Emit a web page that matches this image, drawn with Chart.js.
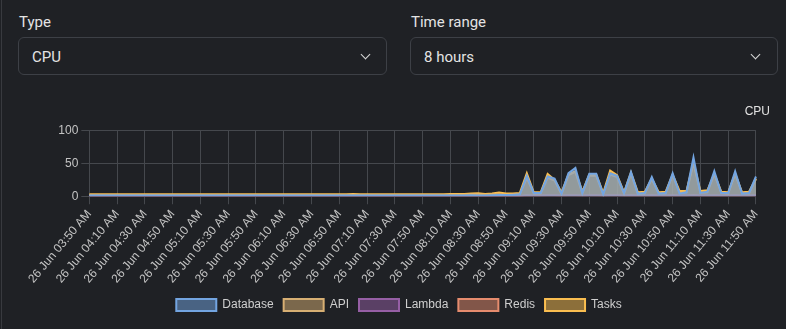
<!DOCTYPE html>
<html>
<head>
<meta charset="utf-8">
<script src="https://cdn.jsdelivr.net/npm/chart.js@4.4.1/dist/chart.umd.min.js"></script>
<style>
  html, body { margin: 0; padding: 0; background: #1f2125; }
  body { width: 786px; height: 329px; position: relative; overflow: hidden; font-family: Roboto, "Noto Sans", sans-serif; color: #e4e4e4; }
  .edge { position: absolute; left: 1px; top: 0; width: 1px; height: 329px; background: #383a3f; }
  .lbl { position: absolute; top: 13px; font-size: 15px; line-height: 18px; }
  .box { position: absolute; top: 37px; height: 36px; border: 1px solid #3d4046; border-radius: 6px; font-size: 15px; line-height: 39px; box-sizing: content-box; }
  .box span { position: absolute; left: 13px; }
  .chev { position: absolute; top: 13px; width: 6px; height: 6px; border-right: 1.5px solid #d8d8d8; border-bottom: 1.5px solid #d8d8d8; transform: rotate(45deg); }
  #wrap { position: absolute; left: 28px; top: 96px; width: 742px; height: 225px; }
</style>
</head>
<body>
<div class="edge"></div>
<div class="lbl" style="left:19px">Type</div>
<div class="box" style="left:18px;width:367px"><span>CPU</span><div class="chev" style="left:343px"></div></div>
<div class="lbl" style="left:411px">Time range</div>
<div class="box" style="left:410px;width:366px"><span>8 hours</span><div class="chev" style="left:341px"></div></div>
<div id="wrap"><canvas id="cpuChart"></canvas></div>
<script>
// 5 minute samples, 26 Jun
const times = [
  "03:50","03:55","04:00","04:05","04:10","04:15","04:20","04:25","04:30","04:35","04:40","04:45",
  "04:50","04:55","05:00","05:05","05:10","05:15","05:20","05:25","05:30","05:35","05:40","05:45",
  "05:50","05:55","06:00","06:05","06:10","06:15","06:20","06:25","06:30","06:35","06:40","06:45",
  "06:50","06:55","07:00","07:05","07:10","07:15","07:20","07:25","07:30","07:35","07:40","07:45",
  "07:50","07:55","08:00","08:05","08:10","08:15","08:20","08:25","08:30","08:35","08:40","08:45",
  "08:50","08:55","09:00","09:05","09:10","09:15","09:20","09:25","09:30","09:35","09:40","09:45",
  "09:50","09:55","10:00","10:05","10:10","10:15","10:20","10:25","10:30","10:35","10:40","10:45",
  "10:50","10:55","11:00","11:05","11:10","11:15","11:20","11:25","11:30","11:35","11:40","11:45",
  "11:50"
];

const database = [
  1,1,1,1,1,1,1,1,1,1,1,1,
  1,1,1,1,1,1,1,1,1,1,1,1,
  1,1,1,1,1,1,1,1,1,1,1,1,
  1,1,1,1,1,1,1,1,1,1,1,1,
  1,1,1,1,1,1,1,1.5,1,1,1.5,2,
  2,2,3,31,5,5,30,27,4,35,43,5,
  34,34,3,35,31,5,37,4,5,29,4,5,
  35,4,6,59,5,7,38,5,5,38,4,5,
  30
];
const api = [
  2,2,2,2,2,2,2,2,2,2,2,2,
  2,2,2,2,2,2,2,2,2,2,2,2,
  2,2,2,2,2,2,2,2,2,2,2,2,
  2,2,2,2,2,2,2,2,2,2,2,2,
  2,2,2,2,2,2,2,2.5,2.5,2,2.5,3,
  2,3,3,28,4,4,28,24,3,32,37,4,
  31,31,3,33,29,4,34,3,4,26,4,4,
  32,5,6,50,5,6,34,5,4,34,4,4,
  26
];
const lambda = [
  0.5,0.5,0.5,0.5,0.5,0.5,0.5,0.5,0.5,0.5,0.5,0.5,
  0.5,0.5,0.5,0.5,0.5,0.5,0.5,0.5,0.5,0.5,0.5,0.5,
  0.5,0.5,0.5,0.5,0.5,0.5,0.5,0.5,0.5,0.5,0.5,0.5,
  0.5,0.5,0.5,0.5,0.5,0.5,0.5,0.5,0.5,0.5,0.5,0.5,
  0.5,0.5,0.5,0.5,0.5,0.5,0.5,0.5,0.5,0.5,0.5,0.5,
  0.5,0.5,0.5,1,1,1,1,1,1,1,1,1,
  1,1,1,1,1,1,1,1,1,1,1,1,
  1,1,1,1,1,1,1,1,1,1,1,1,
  1
];
const redis = [
  0.3,0.3,0.3,0.3,0.3,0.3,0.3,0.3,0.3,0.3,0.3,0.3,
  0.3,0.3,0.3,0.3,0.3,0.3,0.3,0.3,0.3,0.3,0.3,0.3,
  0.3,0.3,0.3,0.3,0.3,0.3,0.3,0.3,0.3,0.3,0.3,0.3,
  0.3,0.3,0.3,0.3,0.3,0.3,0.3,0.3,0.3,0.3,0.3,0.3,
  0.3,0.3,0.3,0.3,0.3,0.3,0.3,0.3,0.3,0.3,0.3,0.3,
  0.3,0.3,0.5,1.5,1,1,1.5,1.5,1,1.5,1.5,1,
  1.5,1.5,1,1.5,1.5,1,1.5,1,1,1.5,1,1,
  1.5,1,1,2,1,1,1.5,1,1,1.5,1,1,
  1.5
];
const tasks = [
  3,3,3,3,3,3,3,3,3,3,3,3,
  3,3,3,3,3,3,3,3,3,3,3,3,
  3,3,3,3,3,3,3,3,3,3,3,3,
  3,3,3.5,3,3,3,3,3,3,3,3,3,
  3,3,3,3,3.5,3.5,3.5,4,4.5,3.5,4,5.5,
  4,4,5,35,6,6,34,25,6,33,38,7,
  33,33,5,39,32,6,36,6,7,27,6,7,
  33,8,8,52,8,9,34,7,6,34,6,7,
  27
];

const seriesNames = ["Database", "API", "Lambda", "Redis", "Tasks"];
const seriesValues = [database, api, lambda, redis, tasks];
const seriesColors = ["115,165,225", "215,175,115", "150,95,165", "230,140,110", "250,190,80"];

const gridColor = "#45484d";
const tickColor = "#c4c4c4";

Chart.defaults.font.family = "'Liberation Sans', Arial, sans-serif";
Chart.defaults.font.size = 12;

new Chart(document.getElementById("cpuChart"), {
  type: "line",
  data: {
    labels: times,
    datasets: seriesNames.map((name, i) => ({
      label: name,
      data: seriesValues[i],
      borderColor: "rgb(" + seriesColors[i] + ")",
      backgroundColor: "rgba(" + seriesColors[i] + ",0.5)",
      borderWidth: 2,
      pointRadius: 0,
      tension: 0,
      fill: "origin"
    }))
  },
  options: {
    responsive: true,
    maintainAspectRatio: false,
    animation: false,
    plugins: {
      title: {
        display: true,
        text: "CPU",
        align: "end",
        color: "#e2e2e2",
        font: { size: 12, weight: "normal" },
        padding: { top: 8, bottom: 12 }
      },
      legend: {
        position: "bottom",
        labels: { color: "#cfcfcf", boxWidth: 40, boxHeight: 12 }
      },
      tooltip: { enabled: false }
    },
    scales: {
      x: {
        grid: { color: gridColor },
        border: { color: gridColor },
        ticks: {
          color: tickColor,
          minRotation: 50,
          maxRotation: 50,
          autoSkip: true,
          maxTicksLimit: 25,
          callback: function (v) { return "26 Jun " + times[v] + " AM"; }
        }
      },
      y: {
        min: 0,
        max: 100,
        grid: { color: gridColor },
        border: { color: gridColor },
        ticks: { color: tickColor, stepSize: 50 }
      }
    }
  }
});
</script>
</body>
</html>
